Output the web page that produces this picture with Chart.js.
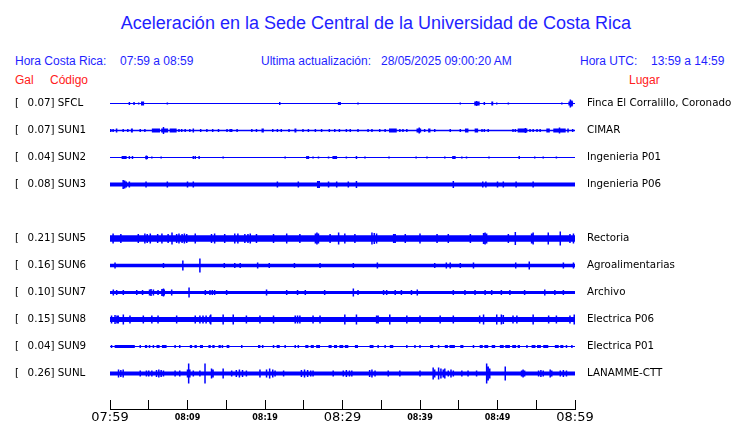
<!DOCTYPE html>
<html>
<head>
<meta charset="utf-8">
<script src="https://cdn.jsdelivr.net/npm/chart.js@4/dist/chart.umd.min.js"></script>
<style>
  body { margin: 0; background: #fff; width: 740px; height: 423px; position: relative; overflow: hidden;
         font-family: "Liberation Sans", Arial, sans-serif; }
  .t { position: absolute; white-space: pre; font-size: 12px; line-height: 12px; color: #1f1fff; }
  .red { color: #ff2020; }
  #title { position: absolute; left: 0; width: 752px; top: 14px; text-align: center;
           font-size: 18px; line-height: 18px; color: #1f1fff; }
  #traces { position: absolute; left: 0; top: 0; }
  #axis { position: absolute; left: 0; top: 400px; }
</style>
</head>
<body>
<div id="title">Aceleración en la Sede Central de la Universidad de Costa Rica</div>
<div class="t" style="left:15px;top:55px">Hora Costa Rica:</div>
<div class="t" style="left:120px;top:55px">07:59 a 08:59</div>
<div class="t" style="left:261px;top:55px">Ultima actualización:</div>
<div class="t" style="left:381px;top:55px">28/05/2025 09:00:20 AM</div>
<div class="t" style="left:580px;top:55px">Hora UTC:</div>
<div class="t" style="left:651px;top:55px">13:59 a 14:59</div>
<div class="t red" style="left:15px;top:74px">Gal</div>
<div class="t red" style="left:50px;top:74px">Código</div>
<div class="t red" style="left:629px;top:74px">Lugar</div>

<canvas id="traces" width="740" height="423"></canvas>
<canvas id="axis" width="740" height="23"></canvas>

<script>
// stations, top to bottom (SUN4 slot is empty)
const CODES = ['SFCL', 'SUN1', 'SUN2', 'SUN3', 'SUN5', 'SUN6', 'SUN7', 'SUN8', 'SUN9', 'SUNL'];
const GAL = [0.07, 0.07, 0.04, 0.08, 0.21, 0.16, 0.10, 0.15, 0.04, 0.26];
const PLACES = ['Finca El Corralillo, Coronado', 'CIMAR', 'Ingenieria P01', 'Ingenieria P06', 'Rectoria',
  'Agroalimentarias', 'Archivo', 'Electrica P06', 'Electrica P01', 'LANAMME-CTT'];
const ROW_INDEX = [0, 1, 2, 3, 5, 6, 7, 8, 9, 10];

// time axis, minutes after 07:59
const T_MIN = 0, T_MAX = 60;
const TICK_MINUTES = [0, 5, 10, 15, 20, 25, 30, 35, 40, 45, 50, 55, 60];
const TICK_LABELS = ['07:59', '08:09', '08:19', '08:29', '08:39', '08:49', '08:59'];

// spikes: [minute, half amplitude], bursts: [from, to] minutes
const SPIKES_SFCL = [[2.5,1.5],[3.1,1.5],[3.7,1],[7.4,1],[21.9,1.5],[29.5,1.5],[29.7,1.5],[32.0,1],[45.2,1],[47.3,2.5],
  [48.3,1.5],[49.9,1],[51.4,1],[58.3,1],[59.4,4],[59.6,3]];
const BURSTS_SFCL = [[4.0,4.4],[47.0,47.7],[49.2,49.45],[59.15,59.75]];

const SPIKES_SUN1 = [[0.1,1.5],[0.4,1.5],[1.7,1.5],[2.3,1.5],[3.9,1.5],[4.5,1.5],[6.9,3.5],[8.9,1.5],[9.25,1.5],[9.7,1.5],
  [10.3,1.5],[10.75,2],[11.7,1.5],[12.5,1.5],[13.25,1.5],[14.0,1.5],[15.1,1.5],[15.5,1.5],[15.7,1.5],[16.4,1.5],
  [18.3,1.5],[18.9,1.5],[21.0,1.5],[21.6,1.5],[22.1,1.5],[23.1,1.5],[24.9,1.5],[25.6,1.5],[26.5,1.5],[27.3,1.5],
  [28.3,1.5],[29.0,1.5],[29.6,1.5],[30.5,1.5],[31.0,1.5],[32.0,1.5],[33.3,1.5],[33.8,1.5],[34.8,1.5],[35.5,1.5],
  [37.4,1.5],[37.8,1.5],[38.3,1.5],[39.9,3],[40.6,1.5],[41.9,1.5],[43.9,1.5],[45.2,1.5],[48.0,1.5],[48.3,1.5],
  [48.8,1.5],[52.0,1.5],[52.3,1.5],[53.6,2.5],[54.2,1.5],[54.6,1.5],[55.1,1.5],[55.5,1.5],[58.0,3],[59.1,2],[59.7,1.5]];
const BURSTS_SUN1 = [[0.75,0.95],[2.7,2.95],[5.4,6.45],[6.6,7.5],[7.7,8.6],[19.55,19.85],[23.8,24.05],[36.0,37.0],
  [39.55,40.15],[41.05,41.35],[45.8,46.25],[47.05,47.5],[52.6,53.85],[56.3,56.75],[57.2,58.8]];

const SPIKES_SUN2 = [[2.5,1.5],[2.9,1.5],[4.7,2],[5.4,1],[6.6,1],[10.75,1.5],[11.0,1.5],[11.5,1.5],[14.6,1],[22.6,1],
  [25.4,1.5],[25.6,1.5],[26.2,1],[26.9,1],[28.2,1],[30.5,1],[31.8,1.5],[32.9,1],[36.0,1],[39.5,1],[40.9,1],[43.2,1],
  [45.4,1],[46.0,1],[48.9,1],[52.8,1.5],[54.8,1],[55.9,1],[57.6,1]];
const BURSTS_SUN2 = [[1.5,2.15],[4.55,4.9],[28.7,29.3],[44.15,44.6]];

const SPIKES_SUN3 = [[1.7,4.5],[1.9,4],[2.1,3],[2.5,3],[4.65,3],[7.4,3],[10.0,3],[10.75,3],[21.6,3],[24.3,3],[26.8,3.5],
  [27.0,3.5],[28.2,3],[29.25,3],[30.75,3],[31.8,3.5],[44.3,3.5],[48.1,3],[48.5,3],[50.0,3],[50.75,3],[52.4,3],[54.6,3]];

const SPIKES_SUN5 = [[0.4,5],[1.4,4.5],[3.65,4.5],[4.5,5],[4.8,4.5],[5.2,5],[6.15,4.5],[6.7,5],[7.5,4.5],[8.0,6],[8.6,4.5],
  [8.9,5],[9.3,4.5],[9.6,5],[9.9,4.5],[11.0,5],[13.1,4.5],[13.5,5],[14.8,4.5],[16.1,5],[16.5,5],[17.4,4.5],[17.8,4.5],
  [18.1,5],[18.9,4.5],[21.1,4.5],[22.8,5],[24.5,4.5],[26.5,5],[26.7,6],[26.9,5],[28.4,4.5],[29.5,6],[30.3,5],[31.6,4.5],
  [33.8,6],[34.1,5.5],[34.4,5],[36.6,4.5],[36.8,4.5],[38.1,4.5],[40.0,5],[42.2,4.5],[43.65,4.5],[46.5,4.5],[48.2,5.5],
  [48.4,6],[48.6,5],[51.4,4.5],[52.3,6.5],[54.4,5],[54.6,6],[56.55,6],[58.1,7],[59.35,4.5],[59.8,5]];

const SPIKES_SUN6 = [[0.65,3],[6.9,2.5],[9.4,5],[11.6,7],[14.75,2.5],[16.1,2.5],[16.8,2.5],[19.05,3],[20.55,2.5],
  [23.8,2.5],[27.1,2.5],[31.4,2.5],[34.5,3],[41.9,2.5],[43.4,3],[43.9,3],[45.2,2.5],[46.9,3],[52.35,3],[54.1,4],
  [58.5,3],[59.8,3]];

const SPIKES_SUN7 = [[0.43,3],[0.86,2.5],[1.72,2.5],[3.45,2.5],[4.2,2.5],[5.1,3],[5.3,3.5],[5.6,3],[6.2,2.5],[6.7,3.5],
  [6.9,4],[7.0,3],[7.96,3],[10.2,5],[12.3,2.5],[12.9,2.5],[13.2,2.5],[13.5,2.5],[15.05,2.5],[20.2,3],[22.8,2.5],
  [24.2,2.5],[25.2,2.5],[27.7,2.5],[31.4,4],[32.0,2.5],[35.3,2.5],[35.7,2.5],[36.8,2.5],[37.6,2.5],[38.9,2.5],
  [39.65,3],[44.3,2.5],[45.8,2.5],[47.1,2.5],[48.4,2.5],[49.25,2.5],[50.5,2.5],[51.6,2.5],[53.5,2.5],[56.1,3],
  [57.4,2.5],[58.5,2.5]];

const SPIKES_SUN8 = [[0.2,4],[0.65,4.5],[0.9,4],[1.07,4],[1.72,5],[2.58,4],[4.3,4],[5.4,4],[6.2,4],[8.6,4],[11.0,4],
  [11.6,4],[12.0,4],[12.4,4],[12.9,4],[13.0,5],[14.6,5],[15.9,5],[17.6,4],[19.35,4],[21.1,4],[23.9,4],[24.2,4],
  [24.5,4],[26.2,4],[27.1,4],[30.3,5],[31.8,5],[34.4,4],[34.6,4],[36.1,5],[38.3,4],[40.0,4],[42.6,4],[44.3,4],
  [47.7,4],[48.2,5],[49.9,5],[50.5,5],[50.75,4.5],[52.0,4],[52.5,4],[54.6,5],[56.6,4],[57.6,4],[59.35,4],[59.9,5]];

const SPIKES_SUN9 = [[0.2,1.5],[3.9,1.5],[5.6,1.5],[8.4,1.5],[9.0,1.5],[17.0,1.5],[21.1,1.5],[22.6,1.5],[23.9,1.5],
  [24.3,1.5],[34.6,1.5],[35.5,1.5],[38.3,1.5],[39.35,1.5],[40.0,1.5],[42.4,1.5],[46.9,1.5],[53.8,1.5],[58.9,1.5],[59.6,1.5]];
const BURSTS_SUN9 = [[0.6,3.2],[4.5,4.8],[5.0,5.2],[6.0,6.4],[6.7,7.3],[10.3,10.6],[10.9,11.2],[11.6,12.0],[12.7,13.0],
  [13.2,13.5],[14.0,14.3],[14.4,14.6],[15.05,15.4],[19.1,19.4],[19.6,19.8],[21.5,21.9],[25.2,25.6],[25.9,26.3],
  [26.6,27.1],[28.2,28.6],[28.9,29.3],[29.6,30.1],[30.3,30.75],[31.6,32.0],[33.5,34.0],[36.1,36.55],[41.3,41.7],
  [43.2,43.6],[43.8,44.5],[45.2,45.6],[47.7,48.1],[48.3,48.8],[49.25,49.7],[50.3,50.8],[51.0,51.6],[51.9,52.4],
  [52.6,52.9],[54.4,54.9],[55.1,55.6],[55.9,56.55],[57.4,57.9],[58.1,58.5]];

const SPIKES_SUNL = [[1.1,4],[1.4,3.5],[1.7,4],[3.9,3],[4.7,3],[5.0,3],[5.4,3],[6.0,3.5],[6.3,4],[6.6,3.5],[6.9,3],
  [8.4,3],[9.0,3],[10.0,4],[10.15,10],[10.3,4],[10.75,3],[11.6,3],[12.26,10],[13.1,5],[13.3,4],[14.6,5],[15.7,3],
  [16.3,3.5],[16.7,4],[17.1,3.5],[17.6,3],[19.35,4],[20.2,4],[20.6,5],[21.0,4],[21.3,3],[22.4,3],[24.7,3.5],[25.1,4],
  [25.5,3.5],[25.9,3],[26.2,3],[28.8,3],[30.1,3],[30.5,3.5],[30.9,3],[31.2,3],[33.5,3.5],[33.8,4],[34.2,3],[35.9,3],
  [37.4,3],[40.0,3],[41.7,6],[41.9,4],[42.4,6],[42.7,5],[43.0,4],[43.2,5],[43.65,3],[44.0,4],[44.3,3],[45.4,3],
  [46.2,3],[47.3,3],[48.6,10],[48.8,7],[49.0,5],[51.0,7],[53.1,3],[53.3,4],[53.5,3],[55.3,3],[55.6,3.5],[55.9,3],
  [56.8,4],[57.0,3],[58.1,3],[58.5,3.5],[58.9,3]];

const SPIKES = [SPIKES_SFCL, SPIKES_SUN1, SPIKES_SUN2, SPIKES_SUN3, SPIKES_SUN5, SPIKES_SUN6, SPIKES_SUN7,
  SPIKES_SUN8, SPIKES_SUN9, SPIKES_SUNL];
const BURSTS = [BURSTS_SFCL, BURSTS_SUN1, BURSTS_SUN2, [], [], [], [], [], BURSTS_SUN9, []];

// drawing styles
const ROW_STEP = 27;
const Y_MAX = 13.5;
const BAND_W = [1, 1.3, 1, 4, 6.6, 3.6, 3.2, 5.2, 1, 4];
const BURST_W = [4, 4, 3, 0, 0, 0, 0, 0, 3, 0];
const BLUE = '#0000ff';
const LABEL_FONT = { family: 'DejaVu Sans', size: 10.3 };

function rowY(i) { return -ROW_INDEX[i] * ROW_STEP; }

const datasets = [];
CODES.forEach((code, i) => {
  const y0 = rowY(i);
  const base = { borderColor: BLUE, pointRadius: 0, tension: 0, spanGaps: false, fill: false };
  datasets.push({ ...base, label: code, data: [{ x: T_MIN, y: y0 }, { x: T_MAX, y: y0 }], borderWidth: BAND_W[i] });
  if (BURSTS[i].length) {
    const pts = [];
    BURSTS[i].forEach(([a, b]) => pts.push({ x: a, y: y0 }, { x: b, y: y0 }, { x: b, y: null }));
    datasets.push({ ...base, label: code + ' bursts', data: pts, borderWidth: BURST_W[i] });
  }
  const sp = [];
  SPIKES[i].forEach(([t, a]) => sp.push({ x: t, y: y0 + a }, { x: t, y: y0 - a }, { x: t, y: null }));
  datasets.push({ ...base, label: code + ' spikes', data: sp, borderWidth: 1.5 });
});

const leftLabel = i => '[  \u2009' + GAL[i].toFixed(2) + '] ' + CODES[i];

new Chart(document.getElementById('traces'), {
  type: 'line',
  data: { datasets },
  options: {
    responsive: false,
    animation: false,
    layout: { padding: { left: 15, right: 0, top: 90, bottom: 23 } },
    plugins: { legend: { display: false }, tooltip: { enabled: false } },
    scales: {
      x: { type: 'linear', min: T_MIN, max: T_MAX, display: false },
      y: {
        type: 'linear', position: 'left', min: Y_MAX - 310, max: Y_MAX,
        afterBuildTicks: s => { s.ticks = CODES.map((c, i) => ({ value: rowY(i) })); },
        afterFit: s => { s.width = 95; },
        grid: { display: false, drawTicks: false },
        border: { display: false },
        ticks: { crossAlign: 'far', autoSkip: false, color: '#000', font: LABEL_FONT, callback: (v, i) => leftLabel(i) },
      },
      y2: {
        type: 'linear', position: 'right', min: Y_MAX - 310, max: Y_MAX,
        afterBuildTicks: s => { s.ticks = CODES.map((c, i) => ({ value: rowY(i) })); },
        afterFit: s => { s.width = 165; },
        grid: { display: false, drawTicks: false },
        border: { display: false },
        ticks: { padding: 12, autoSkip: false, color: '#000', font: LABEL_FONT, callback: (v, i) => PLACES[i] },
      },
    },
  },
});

new Chart(document.getElementById('axis'), {
  type: 'line',
  data: { datasets: [] },
  options: {
    responsive: false,
    animation: false,
    layout: { padding: { left: 110, right: 165, top: 0, bottom: 0 } },
    plugins: { legend: { display: false }, tooltip: { enabled: false } },
    scales: {
      x: {
        type: 'linear', position: 'bottom', min: T_MIN, max: T_MAX,
        afterBuildTicks: s => { s.ticks = TICK_MINUTES.map(v => ({ value: v })); },
        afterFit: s => { s.height = 14; },
        grid: { color: '#000', lineWidth: 1, drawTicks: false },
        border: { display: true, color: '#000', width: 1 },
        ticks: {
          padding: 1, maxRotation: 0, autoSkip: false, color: '#000',
          font: ctx => (ctx.index % 6 === 0)
            ? { family: 'DejaVu Sans', size: 13 }
            : { family: 'DejaVu Sans', size: 8, weight: 'bold', lineHeight: 1.9 },
          callback: (v, i) => (i % 2 ? '' : TICK_LABELS[i / 2]),
        },
      },
      y: { display: false, min: 0, max: 1 },
    },
  },
});
</script>
</body>
</html>
